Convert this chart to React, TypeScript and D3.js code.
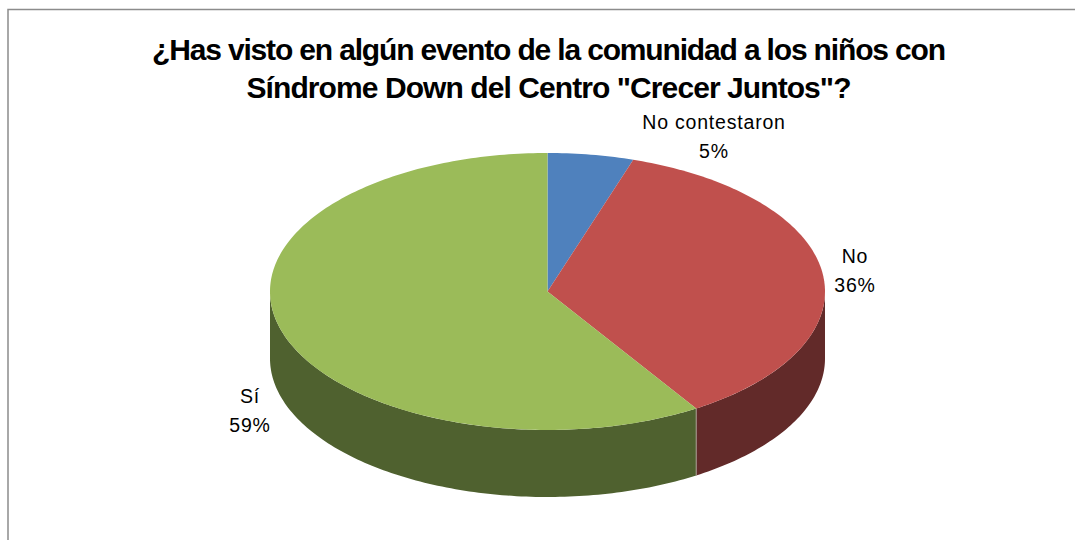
import React from "react";
import * as d3 from "d3";

const categories = ["No contestaron", "No", "Sí"];
const values = [5, 36, 59];
const labels = ["5%", "36%", "59%"];
const topColors = ["#4F81BD", "#C0504D", "#9BBB59"];
const sideColors = ["#2F4D71", "#622A29", "#4F612F"];
const titleLines = [
  "¿Has visto en algún evento de la comunidad a los niños con",
  'Síndrome Down del Centro "Crecer Juntos"?',
];
const titleWidths = [794, 605];

const W = 1075;
const H = 540;
const cx = 547.5;
const cy = 291.5;
const rx = 277.5;
const ry = 138.5;
const depth = 67;

const pt = (t: number, dy = 0): [number, number] => [
  cx + rx * Math.sin(t),
  cy - ry * Math.cos(t) + dy,
];

const arcPoints = (a0: number, a1: number, dy = 0) => {
  const n = Math.max(2, Math.ceil(((a1 - a0) / (Math.PI * 2)) * 360));
  return d3.range(n + 1).map((i) => pt(a0 + ((a1 - a0) * i) / n, dy));
};

const line = d3.line<[number, number]>();

// label positions (anchor, baseline of first line)
const labelPos: [number, number][] = [
  [714, 129],
  [855, 263],
  [250, 403],
];

export default function App() {
  const arcs = d3
    .pie<number>()
    .sort(null)
    .startAngle(0)
    .endAngle(Math.PI * 2)(values);

  const sides = arcs
    .map((a, i) => {
      const s = Math.max(a.startAngle, Math.PI / 2);
      const e = Math.min(a.endAngle, (Math.PI * 3) / 2);
      if (e <= s) return null;
      const top = arcPoints(s, e);
      const bot = arcPoints(s, e, depth).reverse();
      return { i, d: line([...top, ...bot])! + "Z", s, e };
    })
    .filter(Boolean) as { i: number; d: string; s: number; e: number }[];

  const edges = arcs
    .map((a) => a.startAngle)
    .filter((t) => t > Math.PI / 2 && t < (Math.PI * 3) / 2);

  return (
    <svg
      width={W}
      height={H}
      style={{ position: "absolute", left: 0, top: 0, background: "#fff" }}
    >
      <rect x={0} y={0} width={W} height={H} fill="#fff" />
      <rect
        x={8}
        y={9.5}
        width={W + 20}
        height={H + 20}
        fill="#fff"
        stroke="#8c8c8c"
        strokeWidth={1.5}
      />
      {titleLines.map((t, i) => (
        <text
          key={i}
          x={549}
          y={60 + i * 38}
          textAnchor="middle"
          fontFamily="Liberation Sans, Arial, sans-serif"
          fontWeight="bold"
          fontSize={30}
          textLength={titleWidths[i]}
          lengthAdjust="spacing"
          fill="#000"
        >
          {t}
        </text>
      ))}
      {sides.map((s) => (
        <path key={"s" + s.i} d={s.d} fill={sideColors[s.i]} />
      ))}
      {edges.map((t, k) => {
        const [x, y] = pt(t);
        return (
          <line
            key={"e" + k}
            x1={x}
            y1={y}
            x2={x}
            y2={y + depth}
            stroke="#a89a92"
            strokeWidth={1}
          />
        );
      })}
      {arcs.map((a, i) => (
        <path
          key={"t" + i}
          d={line([[cx, cy], ...arcPoints(a.startAngle, a.endAngle)])! + "Z"}
          fill={topColors[i]}
        />
      ))}
      {arcs.map((a, i) => (
        <text
          key={"l" + i}
          x={labelPos[i][0]}
          y={labelPos[i][1]}
          textAnchor="middle"
          fontFamily="Liberation Sans, Arial, sans-serif"
          fontSize={19.5}
          letterSpacing={0.8}
          fill="#000"
        >
          <tspan x={labelPos[i][0]}>{categories[i]}</tspan>
          <tspan x={labelPos[i][0]} dy={29}>
            {labels[i]}
          </tspan>
        </text>
      ))}
    </svg>
  );
}
